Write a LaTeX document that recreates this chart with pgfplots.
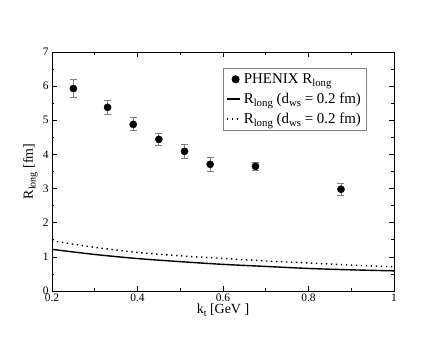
\documentclass[border=0pt]{standalone}
\usepackage{fontspec}
\setmainfont{Liberation Serif}
\usepackage{pgfplots}
\pgfplotsset{compat=1.18}
\newcommand\sub[1]{\raisebox{-0.45ex}{\fontsize{0.72em}{1em}\selectfont #1}}
\pgfplotsset{
  solidleg/.style={legend image code/.code={\draw[##1] (0bp,0bp) -- (13bp,0bp);}},
  dotleg/.style={legend image code/.code={\draw[##1] (0bp,0bp) -- (14bp,0bp);}}}
\begin{document}
\begin{tikzpicture}
\begin{axis}[scale only axis,width=342bp,height=239bp,
  xmin=0.2,xmax=1,ymin=0,ymax=7,
  xtick={0.2,0.4,...,1.0},minor x tick num=1,
  ytick={0,1,...,7},minor y tick num=1,
  xticklabels={0.2,0.4,0.6,0.8,1},
  tick align=inside,major tick length=5bp,minor tick length=2.5bp,
  axis line style={line width=0.8bp},
  every tick/.style={black,line width=0.6bp},
  /pgf/number format/assume math mode=true,
  tick label style={font=\fontsize{11.5}{13}\selectfont},
  xticklabel style={yshift=1bp},
  label style={font=\fontsize{14}{16}\selectfont},
  xlabel={k\sub{t} [GeV ]},
  ylabel={R\sub{long} [fm]},
  xlabel style={yshift=4bp},ylabel style={yshift=-2bp},
  legend style={at={(0.5,0.932)},anchor=north west,draw=gray,line width=0.8bp,
    font=\fontsize{15}{17}\selectfont,inner sep=3bp,row sep=4bp,
    cells={anchor=west}},
  legend cell align=left,
  ]
\addplot[only marks,mark=*,mark size=3.6bp,black,
  error bars/.cd,y dir=both,y explicit,
  error bar style={gray,line width=0.8bp},
  error mark options={gray,rotate=90,mark size=3.5bp,line width=0.8bp}]
  coordinates {
  (0.25,5.93) +- (0,0.27)
  (0.33,5.38) +- (0,0.21)
  (0.39,4.88) +- (0,0.19)
  (0.45,4.44) +- (0,0.19)
  (0.51,4.09) +- (0,0.20)
  (0.57,3.71) +- (0,0.21)
  (0.676,3.65) +- (0,0.12)
  (0.876,2.98) +- (0,0.18)};
\addlegendentry{PHENIX R\sub{long}}
\addplot[black,line width=1.4bp,smooth,solidleg] coordinates
  {(0.2,1.22)(0.3,1.07)(0.4,0.95)(0.5,0.86)(0.6,0.78)(0.7,0.72)(0.8,0.66)(0.9,0.62)(1.0,0.59)};
\addlegendentry{R\sub{long} (d\sub{ws} = 0.2 fm)}
\addplot[black,line width=1.4bp,dash pattern=on 1.4bp off 3.6bp,smooth,dotleg] coordinates
  {(0.2,1.47)(0.3,1.28)(0.4,1.13)(0.5,1.03)(0.6,0.955)(0.7,0.88)(0.8,0.82)(0.9,0.76)(1.0,0.71)};
\addlegendentry{R\sub{long} (d\sub{ws} = 0.2 fm)}
\end{axis}
\path ([shift={(-52bp,-52bp)}]current axis.south west) rectangle ++(444bp,343bp);
\end{tikzpicture}
\end{document}
